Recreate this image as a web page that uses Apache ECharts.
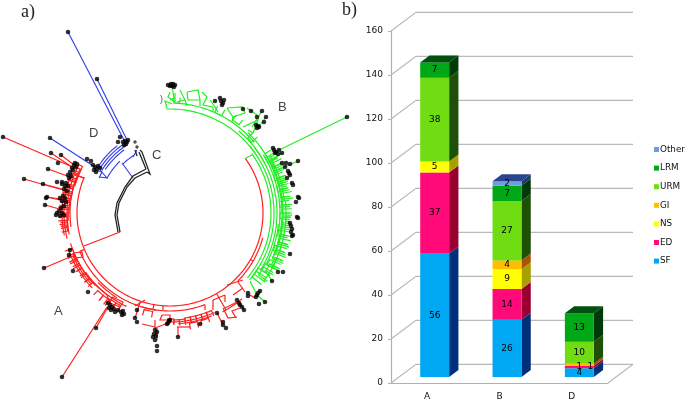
<!DOCTYPE html>
<html><head><meta charset="utf-8">
<style>html,body{margin:0;padding:0;background:#fff}#c{width:685px;height:401px}</style>
<script src="https://cdn.jsdelivr.net/npm/echarts@6/dist/echarts.min.js"></script>
</head><body><div id="c"></div>
<script>
// ---------- panel b data ----------
const categories = ['A','B','D'];
const SF    = [56,26,4];
const ED    = [37,14,1];
const NS    = [5,9,0];
const GI    = [0,4,1];
const URM   = [38,27,10];
const LRM   = [7,7,13];
const Other = [0,2,0];
const yTicks = [0,20,40,60,80,100,120,140,160];

// ---------- panel a data (tree layout units; arcs: [radius, from, to], forks: [from, to, rBase, rTip]) ----------
const redArcs   = [[93,54,292],[98,188,247],[103,205,235],[96,105,135],[98,159,197],[109,156,181],[111,158,176],[100,262,296],[103,258,298],[106,256,292],[108,258,286],[104,226,253],[108,226,250],[106,228,246],[112,140,152],[100,212,226]];
const greenArcs = [[104,358,55],[110,3,50],[107,40,62],[101,54,130],[104,50,130],[107,52,122],[110,58,100],[113,62,112],[116,84,126],[109,96,118],[112,44,70],[115,60,84]];
const blueArcs  = [[72,299,316],[68,316,328],[78,304,324],[80.5,302,328],[83,302,326],[85.5,303,322]];
const redForks = [[260,263,104,110],[262,265,103,110],[264,268,103,111],[266,269,102,112],[268,272,102,111],[270,273,101,112],[272,276,101,111],[274,277,101,111],[276,280,101,110],[278,281,100,110],[280,284,100,109],[282,285,100,109],[284,288,100,108],[286,289,99,107],[288,292,99,107],[290,293,99,106],[292,296,99,106],[294,298,99,104],
 [228,231,104,110],[231,235,104,110],[234,238,104,110],[238,241,104,111],[240,244,104,112],[243,247,104,112],[246,250,104,112],[216,219,106,113],[219,223,106,112],[208,211,105,113],[211,215,105,113],
 [157,160,106,112],[160,163,106,112],[163,166,106,112],[166,169,106,112],[169,172,106,112],[172,175,107,113],[175,178,107,112],[178,181,106,111],[166,170,112,118],[160,164,112,116],[190,195,100,106]];
const greenForks = [[2,5,110,116],[24,28,110,117],[34,38,112,118],[46,49,108,116],
 [58,61,112,119],[60,63,110,121],[62,66,112,122],[64,67,114,124],[66,69,112,122],[68,72,112,121],[70,73,110,120],[72,75,112,122],[74,78,112,121],[76,79,110,122],[78,82,112,120],[80,83,113,124],[82,86,112,122],[84,87,110,120],[86,90,112,122],[88,91,112,122],[90,93,110,120],[92,96,112,121],[95,98,112,122],[97,101,112,120],[99,102,110,120],[101,105,112,122],[103,106,112,124],[105,109,112,122],[107,110,110,122],[109,113,112,121],[111,114,112,124],[113,117,114,123],[115,118,110,122],[117,121,112,120],[118,122,108,118],[120,125,108,119],[122,126,104,118],[124,128,104,116],[74,77,116,120],[92,94,116,120],[105,110,116,120],[113,118,116,122]];
const bluePaths = [[[68,32],[125,142]],[[97,79],[127,140]],[[50,138],[95,167]],[[100,177],[107,178],[100,170]],[[122,163],[133,178]],[[133,157],[137,150]],[[95,170],[102,172],[99,178]]];
const blackPaths = [[[120,232],[117,215],[119,203],[127,187],[135,178],[147,172]],[[118,232],[115,215],[117,203],[125,187],[133,176],[146,169]],[[147,172],[150,174],[142,152],[140,150]],[[146,169],[139,152]],[[135,150],[137,156]]];
const redPaths = [[[120,232],[84,246]],[[3,137],[75,168]],[[51,153],[72,167]],[[61,155],[74,165]],[[48,169],[70,177]],[[24,179],[63,190]],[[43,184],[62,189]],[[47,197],[67,200]],[[45,205],[63,210]],[[46,197],[60,200]],[[85,178],[75,175]],
 [[44,268],[70,257]],[[73,253],[82,252],[83,257],[75,258],[73,253]],[[62,377],[107,307]],[[96,328],[108,307]],[[112,297],[123,302],[120,307],[110,303],[112,297]],
 [[140,302],[137,312],[135,318]],[[163,306],[163,310]],[[162,315],[170,315],[170,320],[160,320],[162,315]],[[155,320],[155,328],[168,323]],[[142,324],[155,327]],[[205,305],[205,310]],[[168,318],[168,324]],[[177,327],[190,327]],[[178,327],[178,337]],
 [[213,300],[213,310]],[[213,300],[225,295]],[[225,295],[225,302]],[[225,308],[237,302]],[[223,308],[228,318],[237,317]],[[217,313],[223,325]],[[227,285],[243,280]],[[233,295],[243,288]],[[238,282],[245,292]],[[238,300],[244,310]],[[250,295],[255,298]],[[90,280],[107,295],[110,303]],[[157,328],[157,340]],[[135,306],[145,300]],[[236,318],[232,311],[240,308]]];
const greenPaths = [[[246,158],[252,155]],[[347,117],[277,151]],[[167,108],[165,101],[172,104]],[[172,87],[174,98],[170,100]],[[257,295],[265,302]],[[250,281],[257,295]],[[272,281],[265,270]],[[262,111],[252,127]],[[266,117],[258,128]],[[282,153],[270,162]],[[298,161],[278,170]],
 [[170,92],[168,97],[175,102],[175,93]],[[180,90],[185,100],[177,102]],[[187,92],[198,90],[200,100],[188,100],[187,92]],[[202,92],[207,97],[203,105],[213,107]],[[210,100],[215,107],[218,112]],[[227,108],[242,107],[245,113],[233,117],[227,108]],[[247,108],[257,115]],[[243,127],[258,120],[253,133]],[[185,100],[187,106]],[[200,100],[200,106]],[[213,107],[213,112]],[[233,117],[232,122]],[[253,133],[248,130]]];
const tips = [[3,137],[50,138],[51,153],[61,155],[58,163],[48,169],[24,179],[43,184],[57,182],[62,182],[47,197],[46,198],[45,205],[56,215],
 [74,165],[76,167],[72,168],[75,163],[77,164],[73,170],[70,172],[68,175],[71,176],[69,178],[66,183],[65,186],[68,186],[62,184],[64,189],[67,191],[63,196],[60,198],[65,198],[62,201],[66,202],[64,206],[61,208],[59,211],[62,213],[64,215],[57,213],[60,216],
 [70,250],[69,255],[44,268],[73,271],[88,292],[96,328],[62,377],
 [108,303],[110,305],[109,308],[112,307],[111,310],[114,309],[115,312],[118,310],[121,312],[123,311],[124,314],[122,315],[137,310],[135,318],[137,322],
 [167,324],[168,323],[169,321],[170,320],[155,330],[157,332],[154,334],[156,336],[153,337],[155,340],[157,346],[157,351],[178,337],[200,324],[217,313],[223,325],[226,328],[223,322],
 [237,300],[239,303],[240,305],[242,307],[244,310],[248,293],[248,296],[259,304],[265,302],[257,295],[258,293],[260,291],[256,297],
 [272,281],[278,272],[283,272],[290,254],[290,223],[291,226],[292,229],[291,232],[293,235],[292,236],[297,217],
 [171,84],[173,84],[175,85],[170,86],[172,86],[174,87],[168,85],[215,101],[220,98],[221,101],[223,103],[222,105],[224,100],[243,109],[251,111],[262,111],[257,117],[266,117],[264,122],[256,125],[258,126],[257,128],[259,127],
 [347,117],[274,150],[276,152],[278,154],[275,153],[279,150],[273,148],[282,153],[298,161],[282,163],[286,163],[290,164],[285,167],[288,171],[289,173],[290,175],[287,178],[292,183],[293,185],[298,197],[299,198],[296,202],[298,218],
 [68,32],[97,79],[120,137],[118,142],[123,142],[125,141],[127,142],[126,144],[124,145],[128,140],[87,159],[91,161],[93,165],[95,167],[97,169],[94,170],[98,166],[96,172],[100,168]];
const blackTips = [[135,142],[137,147]];

const TREE_CX = 170, TREE_CY = 213;
const polarPt = (r,a)=>[TREE_CX + r*Math.sin(a*Math.PI/180), TREE_CY - r*Math.cos(a*Math.PI/180)];
function arcPath(r,a0,a1){ if(a1<a0) a1+=360; const p=[]; for(let a=a0;a<a1;a+=1.5) p.push(polarPt(r,a)); p.push(polarPt(r,a1)); return p; }
function forkPath(f){ return [polarPt(f[3],f[0]),...arcPath(f[2],f[0],f[1]),polarPt(f[3],f[1])]; }
const spoke=(a,r0,r1)=>[polarPt(r0,a),polarPt(r1,a)];

function treeSeries(paths,color,w){
  return {type:'custom',coordinateSystem:'cartesian2d',xAxisIndex:0,yAxisIndex:0,silent:true,clip:false,z:3,
    data:paths.map((_,i)=>[i,0]),encode:{x:0,y:1},animation:false,
    renderItem:(params,api)=>{const path=paths[api.value(0)];
      return {type:'polyline',shape:{points:path.map(p=>api.coord(p))},style:{stroke:color,fill:null,lineWidth:w}};}};
}
const redAll = [...redArcs.map(a=>arcPath(...a)),...redForks.map(forkPath),...redPaths,spoke(120,93,96),spoke(247,93,98),spoke(292,93,100),spoke(190,93,98),spoke(150,93,112)];
const greenAll = [...greenArcs.map(a=>arcPath(...a)),...greenForks.map(forkPath),...greenPaths];
const blueAll = [...blueArcs.map(a=>arcPath(...a)),...bluePaths];

// ---------- bars ----------
const stackDefs = [
 {name:'SF',values:SF,front:'#00A8F4',side:'#00307C',top:'#0050a0'},
 {name:'ED',values:ED,front:'#FF0A78',side:'#990030',top:'#a00040'},
 {name:'NS',values:NS,front:'#FFFF00',side:'#A8A000',top:'#a8a000'},
 {name:'GI',values:GI,front:'#FFBE00',side:'#A85400',top:'#a85400'},
 {name:'URM',values:URM,front:'#70DC12',side:'#1E5008',top:'#2a6a10'},
 {name:'LRM',values:LRM,front:'#00A818',side:'#003A08',top:'#00500f'},
 {name:'Other',values:Other,front:'#6C9FDC',side:'#1F3A70',top:'#2C4590'}
];
const FONT='"DejaVu Sans",sans-serif';
function barBox(api,si,c,v){
  let base=0; for(let k=0;k<si;k++) base+=stackDefs[k].values[c];
  const p0=api.coord([c,base]),p1=api.coord([c,base+v]),w=api.size([1,0])[0]*0.4,L=p0[0]+7.5-w/2;
  return {L,R:L+w,B:p0[1]-6,T:p1[1]-6,w};
}
function barSeries(def,si){
  return {name:def.name,type:'custom',coordinateSystem:'cartesian2d',xAxisIndex:1,yAxisIndex:1,silent:true,clip:false,z:5+si,animation:false,
    itemStyle:{color:def.front},
    data:def.values.map((v,i)=>[i,v]),encode:{x:0,y:1},
    renderItem:(params,api)=>{
      const c=api.value(0),v=api.value(1); if(!v) return null;
      let above=0; for(let k=si+1;k<stackDefs.length;k++) above+=stackDefs[k].values[c];
      const {L,R,B,T,w}=barBox(api,si,c,v),dx=9.3,dy=-7;
      const kids=[
        {type:'polygon',shape:{points:[[R,B],[R+dx,B+dy],[R+dx,T+dy],[R,T]]},style:{fill:def.side}},
        {type:'rect',shape:{x:L,y:T,width:w,height:B-T},style:{fill:def.front}}
      ];
      if(!above) kids.push({type:'polygon',shape:{points:[[L,T],[L+dx,T+dy],[R+dx,T+dy],[R,T]]},style:{fill:def.top}});
      return {type:'group',children:kids};
    }};
}
function labelSeries(def,si){
  return {type:'custom',coordinateSystem:'cartesian2d',xAxisIndex:1,yAxisIndex:1,silent:true,clip:false,z:30,animation:false,
    data:def.values.map((v,i)=>[i,v]),encode:{x:0,y:1},
    renderItem:(params,api)=>{
      const c=api.value(0),v=api.value(1); if(!v) return null;
      const {L,R,B,T}=barBox(api,si,c,v),shifted=def.name==='GI'&&v===1;
      return {type:'text',style:{text:String(v),x:(L+R)/2+(shifted?11:0),y:(T+B)/2+(shifted?2:0),align:'center',verticalAlign:'middle',font:'9px '+FONT,fill:'#000'}};
    }};
}
const wallSeries = {type:'custom',coordinateSystem:'cartesian2d',xAxisIndex:1,yAxisIndex:1,silent:true,clip:false,z:1,animation:false,
  data:yTicks.map(t=>[0,t]),encode:{x:0,y:1},
  renderItem:(params,api)=>{
    const t=api.value(1),y=api.coord([0,t])[1],g=params.coordSys,dx=25,dy=-18.7,st={stroke:'#b9b9b9',lineWidth:1.2,fill:null};
    const kids=[{type:'polyline',shape:{points:[[g.x,y],[g.x+dx,y+dy],[g.x+g.width+dx,y+dy]]},style:st}];
    if(t===0) kids.push({type:'polyline',shape:{points:[[g.x+g.width,y],[g.x+g.width+dx,y+dy]]},style:st});
    return {type:'group',children:kids};
  }};

const txt=(t,x,y,font,fill)=>({type:'text',left:x,top:y,silent:true,style:{text:t,font,fill}});
const chart=echarts.init(document.getElementById('c'),null,{renderer:'canvas'});
chart.setOption({
  animation:false,backgroundColor:'#fff',
  grid:[{left:0,top:0,width:685,height:401},{left:391,top:31,width:217,height:352}],
  xAxis:[{type:'value',gridIndex:0,min:0,max:685,show:false},
    {type:'category',gridIndex:1,data:categories,
     axisLine:{lineStyle:{color:'#b0b0b0',width:1.2}},axisTick:{length:3,lineStyle:{color:'#b0b0b0'}},
     axisLabel:{margin:9,fontSize:9,fontFamily:'DejaVu Sans',color:'#111'}}],
  yAxis:[{type:'value',gridIndex:0,min:0,max:401,inverse:true,show:false},
    {type:'value',gridIndex:1,min:0,max:160,interval:20,splitLine:{show:false},
     axisLine:{show:true,lineStyle:{color:'#b0b0b0',width:1.2}},axisTick:{show:true,length:3,lineStyle:{color:'#b0b0b0'}},
     axisLabel:{margin:8,fontSize:9,fontFamily:'DejaVu Sans',color:'#111'}}],
  legend:{orient:'vertical',left:649,top:140,itemWidth:5,itemHeight:5,itemGap:9.6,selectedMode:false,icon:'rect',
    data:['Other','LRM','URM','GI','NS','ED','SF'],textStyle:{fontSize:8.8,fontFamily:'DejaVu Sans',color:'#111',padding:[0,0,0,-4]}},
  graphic:[txt('a)',21,3,'18px "Liberation Serif"','#222'),txt('b)',342,1,'18px "Liberation Serif"','#222'),
    txt('A',54,305,'13px "Liberation Sans"','#444'),txt('B',278,101,'13px "Liberation Sans"','#444'),
    txt('C',152,149,'13px "Liberation Sans"','#444'),txt('D',89,127,'13px "Liberation Sans"','#444'),
    txt(')',160,95,'9px "Liberation Sans"','#555')],
  series:[
    treeSeries(redAll,'#ff1f1f',1.2),treeSeries(greenAll,'#22ee22',1.2),treeSeries(blueAll,'#2f3be6',1.1),treeSeries(blackPaths,'#222',1.3),
    {type:'scatter',xAxisIndex:0,yAxisIndex:0,data:tips,symbolSize:4.6,itemStyle:{color:'#000'},silent:true,z:4,animation:false},
    {type:'scatter',xAxisIndex:0,yAxisIndex:0,data:blackTips,symbolSize:3.4,itemStyle:{color:'#222'},silent:true,z:4,animation:false},
    wallSeries,...stackDefs.map(barSeries),...stackDefs.map(labelSeries)
  ]
});
</script></body></html>
